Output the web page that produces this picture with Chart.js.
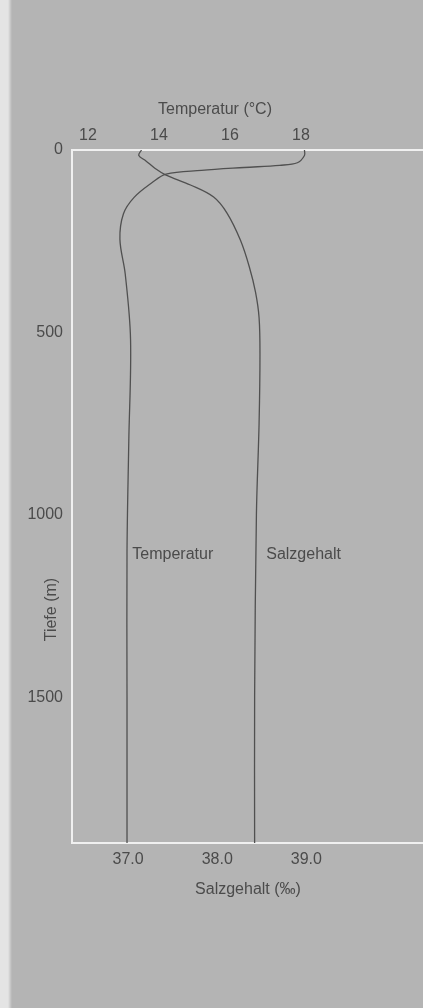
<!DOCTYPE html>
<html lang="de">
<head>
<meta charset="utf-8">
<script src="https://cdn.jsdelivr.net/npm/chart.js"></script>
<style>
  html, body { margin: 0; padding: 0; }
  body {
    width: 423px; height: 1008px; overflow: hidden;
    background: linear-gradient(to right, #e4e4e4 0, #e4e4e4 8px, #b4b4b4 12px, #b4b4b4 100%);
  }
  #wrap { position: relative; width: 423px; height: 1008px; }
</style>
</head>
<body>
<div id="wrap"><canvas id="profil"></canvas></div>
<script>
// Tiefenprofil: Temperatur und Salzgehalt
const tempDepth = [0, 15, 35, 42, 48, 56, 66, 90, 130, 175, 245, 340, 520, 800, 1100, 1500, 1900];
const tempValues = [18.1, 18.1, 17.9, 17.4, 16.4, 15.2, 14.2, 13.8, 13.3, 13.0, 12.9, 13.05, 13.2, 13.15, 13.1, 13.1, 13.1];

const salDepth = [0, 15, 30, 50, 68, 96, 129, 173, 247, 320, 390, 460, 560, 750, 1000, 1500, 1900];
const salValues = [37.15, 37.12, 37.2, 37.3, 37.42, 37.7, 37.96, 38.11, 38.26, 38.36, 38.43, 38.47, 38.48, 38.47, 38.44, 38.42, 38.42];

const tempTicks = [12, 14, 16, 18];
const salTicks = [37.0, 38.0, 39.0];
const depthTicks = [0, 500, 1000, 1500];

const ink = '#4b4b4b';
const frame = '#f0f0f0';
const fontFam = '"Liberation Sans", Arial, sans-serif';

const toPoints = (xs, ys) => xs.map((v, i) => ({ x: v, y: ys[i] }));

// Beschriftungen (Achsentitel und Kurvennamen)
const labelsPlugin = {
  id: 'labels',
  afterDraw(chart) {
    const { ctx, chartArea, scales } = chart;
    ctx.save();
    ctx.fillStyle = ink;
    ctx.font = '16px ' + fontFam;
    ctx.textBaseline = 'middle';
    ctx.textAlign = 'center';
    ctx.fillText('Temperatur (°C)', 215, chartArea.top - 40);
    ctx.fillText('Salzgehalt (‰)', 248, chartArea.bottom + 47);

    ctx.textAlign = 'left';
    const yLab = scales.y.getPixelForValue(1110);
    ctx.fillText('Temperatur', scales.xT.getPixelForValue(13.25), yLab);
    ctx.fillText('Salzgehalt', scales.xS.getPixelForValue(38.55), yLab);

    ctx.translate(52, scales.y.getPixelForValue(1260));
    ctx.rotate(-Math.PI / 2);
    ctx.textAlign = 'center';
    ctx.fillText('Tiefe (m)', 0, 0);
    ctx.restore();
  }
};

const tickFont = { family: fontFam, size: 16 };

new Chart(document.getElementById('profil'), {
  type: 'line',
  data: {
    datasets: [
      {
        label: 'Temperatur',
        data: toPoints(tempValues, tempDepth),
        xAxisID: 'xT',
        yAxisID: 'y',
        borderColor: '#505050',
        borderWidth: 1.3,
        pointRadius: 0,
        tension: 0.35,
        fill: false
      },
      {
        label: 'Salzgehalt',
        data: toPoints(salValues, salDepth),
        xAxisID: 'xS',
        yAxisID: 'y',
        borderColor: '#505050',
        borderWidth: 1.3,
        pointRadius: 0,
        tension: 0.35,
        fill: false
      }
    ]
  },
  options: {
    responsive: true,
    maintainAspectRatio: false,
    animation: false,
    layout: { padding: 0 },
    plugins: {
      legend: { display: false },
      tooltip: { enabled: false }
    },
    scales: {
      xT: {
        type: 'linear',
        position: 'top',
        min: 11.55,
        max: 21.44,
        afterBuildTicks: s => { s.ticks = tempTicks.map(v => ({ value: v })); },
        afterFit: s => { s.height = 150; },
        grid: { display: false, drawTicks: false },
        border: { display: true, color: frame, width: 2 },
        ticks: { color: ink, font: tickFont, padding: 5, maxRotation: 0, callback: v => String(v) }
      },
      xS: {
        type: 'linear',
        position: 'bottom',
        min: 36.37,
        max: 40.31,
        afterBuildTicks: s => { s.ticks = salTicks.map(v => ({ value: v })); },
        afterFit: s => { s.height = 1008 - 843; },
        grid: { display: false, drawTicks: false },
        border: { display: true, color: frame, width: 2 },
        ticks: { color: ink, font: tickFont, padding: 7, maxRotation: 0, callback: v => v.toFixed(1) }
      },
      y: {
        type: 'linear',
        reverse: true,
        min: 0,
        max: 1900,
        afterBuildTicks: s => { s.ticks = depthTicks.map(v => ({ value: v })); },
        afterFit: s => { s.width = 72; },
        grid: { display: false, drawTicks: false },
        border: { display: true, color: frame, width: 2 },
        ticks: { color: ink, font: tickFont, padding: 9, callback: v => String(v) }
      }
    }
  },
  plugins: [labelsPlugin]
});
</script>
</body>
</html>
